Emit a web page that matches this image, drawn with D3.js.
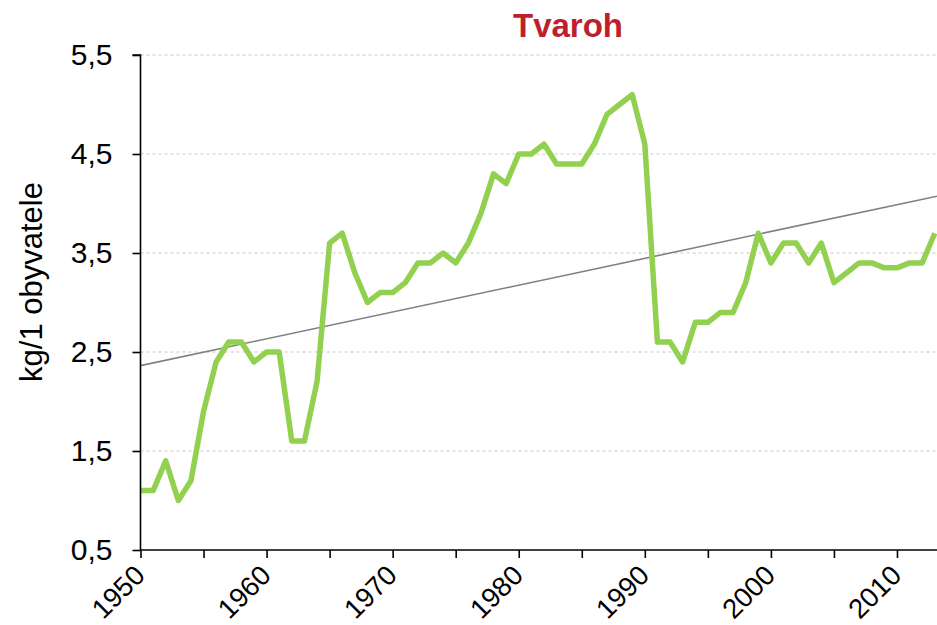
<!DOCTYPE html>
<html>
<head>
<meta charset="utf-8">
<script src="https://cdn.jsdelivr.net/npm/d3@7"></script>
<style>
  body { margin: 0; background: #fff; }
  svg { display: block; font-family: "Liberation Sans", Arial, sans-serif; }
</style>
</head>
<body>
<svg id="chart" width="937" height="625"></svg>
<script>
// spotřeba tvarohu, kg/1 obyvatele
var years = d3.range(1950, 2014)
var values = [
   1.1, 1.1, 1.4, 1.0, 1.2, 1.9, 2.4, 2.6, 2.6, 2.4,   // 1950-1959
   2.5, 2.5, 1.6, 1.6, 2.2, 3.6, 3.7, 3.3, 3.0, 3.1,   // 1960-1969
   3.1, 3.2, 3.4, 3.4, 3.5, 3.4, 3.6, 3.9, 4.3, 4.2,   // 1970-1979
   4.5, 4.5, 4.6, 4.4, 4.4, 4.4, 4.6, 4.9, 5.0, 5.1,   // 1980-1989
   4.6, 2.6, 2.6, 2.4, 2.8, 2.8, 2.9, 2.9, 3.2, 3.7,   // 1990-1999
   3.4, 3.6, 3.6, 3.4, 3.6, 3.2, 3.3, 3.4, 3.4, 3.35,  // 2000-2009
   3.35, 3.4, 3.4, 3.7                                 // 2010-2013
]
var yTicks = [0.5, 1.5, 2.5, 3.5, 4.5, 5.5]
var xTicks = d3.range(1950, 2015, 5)
var xLabels = [1950, 1960, 1970, 1980, 1990, 2000, 2010]

var svg = d3.select("#chart")
var W = 937
var plotLeft = 140.5, plotTop = 55, plotBottom = 550

var xScale = d3.scaleLinear().domain([1950, 2013]).range([plotLeft, 934.8])
var yScale = d3.scaleLinear().domain([0.5, 5.5]).range([plotBottom, plotTop])

var points = years.map(function(y, i) { return { x: y, y: values[i] } })

// linear trend (least squares)
var mx = d3.mean(points, d => d.x)
var my = d3.mean(points, d => d.y)
var m = d3.sum(points, d => (d.x - mx) * (d.y - my)) / d3.sum(points, d => (d.x - mx) * (d.x - mx))
var b = my - m * mx
var trendX = [1950, xScale.invert(W)]

// gridlines
svg.append("g")
   .selectAll("line")
   .data(yTicks.slice(1))
   .join("line")
   .attr("x1", plotLeft)
   .attr("x2", W)
   .attr("y1", d => yScale(d))
   .attr("y2", d => yScale(d))
   .style("stroke", "#c8c8c8")
   .style("stroke-width", 1)
   .style("stroke-dasharray", "3,3")

// trend line
svg.append("line")
   .attr("x1", xScale(trendX[0]))
   .attr("y1", yScale(m * trendX[0] + b))
   .attr("x2", xScale(trendX[1]))
   .attr("y2", yScale(m * trendX[1] + b))
   .style("stroke", "#808080")
   .style("stroke-width", 1.6)

// data line
var line = d3.line().x(d => xScale(d.x)).y(d => yScale(d.y))
svg.append("path")
   .datum(points)
   .attr("d", line)
   .attr("fill", "none")
   .style("stroke", "#92d050")
   .style("stroke-width", 5.5)
   .style("stroke-linejoin", "round")

// axes
var yAxis = d3.axisLeft(yScale)
   .tickValues(yTicks)
   .tickSize(8)
   .tickPadding(20)
   .tickFormat(d => d3.format(".1f")(d).replace(".", ","))
var gy = svg.append("g")
   .attr("transform", "translate(" + plotLeft + ",0)")
   .call(yAxis)
gy.select(".domain").attr("d", "M-8," + plotTop + "H0V" + plotBottom)

var xAxis = d3.axisBottom(xScale)
   .tickValues(xTicks)
   .tickSize(8)
   .tickFormat("")
var gx = svg.append("g")
   .attr("transform", "translate(0," + plotBottom + ")")
   .call(xAxis)
gx.select(".domain").attr("d", "M" + plotLeft + ",0H" + W)

svg.selectAll(".domain, .tick line")
   .style("stroke", "#000")
   .style("stroke-width", 1.6)
gy.selectAll(".tick text")
   .style("font-size", "30px")
   .style("fill", "#000")
   .style("font-family", "Liberation Sans, Arial, sans-serif")

svg.append("g")
   .selectAll("text")
   .data(xLabels)
   .join("text")
   .attr("transform", d => "translate(" + (xScale(d) + 6) + "," + (plotBottom + 27) + ") rotate(-45)")
   .attr("text-anchor", "end")
   .style("font-size", "27.5px")
   .text(d => d)

// axis title
svg.append("text")
   .attr("transform", "translate(42,282) rotate(-90)")
   .attr("text-anchor", "middle")
   .style("font-size", "31px")
   .text("kg/1 obyvatele")

// title
svg.append("text")
   .attr("x", 568)
   .attr("y", 37)
   .attr("text-anchor", "middle")
   .style("font-size", "33px")
   .style("font-weight", "bold")
   .style("fill", "#be1e2d")
   .text("Tvaroh")
</script>
</body>
</html>
